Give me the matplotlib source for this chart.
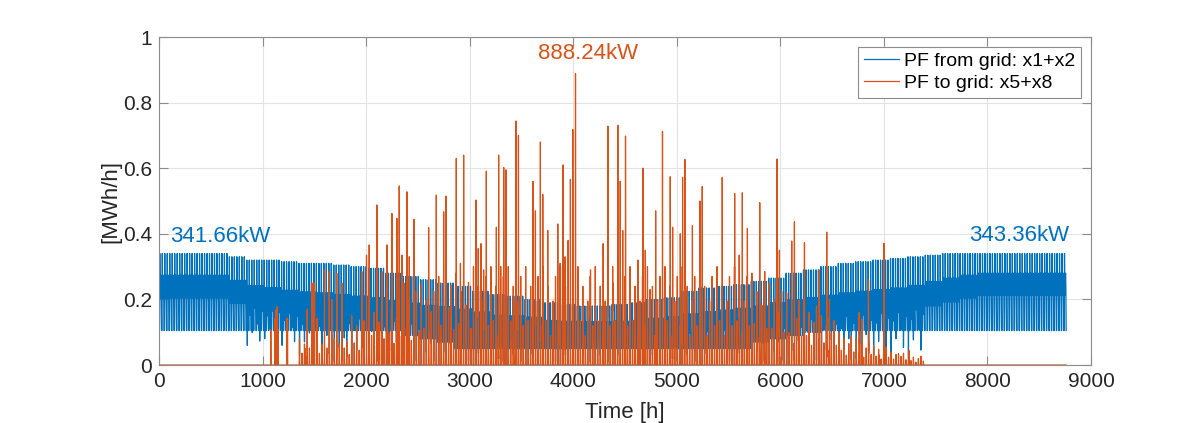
import numpy as np
import matplotlib
matplotlib.use('Agg')
import matplotlib.pyplot as plt

plt.rcParams['font.family'] = ['Liberation Sans', 'DejaVu Sans']

# ---- data ----
n_hours = 8760

# weekly levels of the grid import (MWh/h), one value per week (53 weeks)
blue_top = [0.34, 0.34, 0.34, 0.34, 0.33, 0.32, 0.32, 0.315, 0.31, 0.31,
            0.305, 0.30, 0.295, 0.28, 0.27, 0.26, 0.25, 0.24, 0.225, 0.215,
            0.21, 0.20, 0.19, 0.185, 0.18, 0.18, 0.185, 0.19, 0.20, 0.205,
            0.225, 0.235, 0.24, 0.245, 0.255, 0.265, 0.28, 0.29, 0.30, 0.31,
            0.315, 0.32, 0.325, 0.33, 0.335, 0.34, 0.34, 0.34, 0.34, 0.34,
            0.34, 0.34, 0.34]
blue_mid = [0.23, 0.23, 0.23, 0.23, 0.21, 0.19, 0.18, 0.17, 0.165, 0.16,
            0.155, 0.15, 0.145, 0.14, 0.135, 0.13, 0.13, 0.125, 0.12, 0.11,
            0.11, 0.11, 0.10, 0.10, 0.10, 0.10, 0.10, 0.10, 0.105, 0.11,
            0.11, 0.115, 0.12, 0.125, 0.13, 0.14, 0.145, 0.15, 0.155, 0.16,
            0.165, 0.17, 0.175, 0.185, 0.20, 0.215, 0.23, 0.24, 0.24, 0.24,
            0.24, 0.24, 0.24]
blue_low = ([0.105] * 14 + [0.09, 0.08, 0.07] + [0.05] * 17 +
            [0.07, 0.08, 0.09, 0.10] + [0.105] * 15)
blue_dip = [None] * 5 + [0.06, 0.08, 0.06, 0.03, 0.02, 0.01, 0.0, 0.0, 0.0,
            0.0, 0.0, 0.0, 0.0, 0.0, 0.0, 0.0, 0.0, 0.0, 0.0, 0.0, 0.0, 0.0,
            0.0, 0.0, 0.0, 0.0, 0.0, 0.0, 0.0, 0.0, 0.0, 0.0, 0.0, 0.0, 0.0,
            0.02, 0.03, 0.04, 0.03] + [None] * 9

# hourly shape of a day: 0 = low, 1 = mid, 2 = top
blue_day_shape = [0, 0, 0, 0, 0, 0.3, 1.2, 2.0, 1.3, 1.1, 0.9, 0.8,
                  0.8, 0.85, 0.95, 1.05, 1.2, 1.4, 1.3, 1.15, 1.0, 0.7, 0.2, 0]
# midday dip around solar noon (hours 11..13) and how deep it goes per weekday
blue_dip_shape = {11: 0.55, 12: 1.0, 13: 0.7}
blue_dip_factor = [1.0, 0.3, 0.7, 0.0, 0.5, 0.9, 0.2]

# typical daily export peak per week (MWh/h)
orange_week = [0.0] * 8 + [0.08, 0.08, 0.08, 0.15, 0.2, 0.22, 0.25, 0.25,
               0.27, 0.28] + [0.3] * 16 + [0.28, 0.25, 0.22, 0.2, 0.15, 0.1,
               0.08, 0.06, 0.04, 0.03] + [0.0] * 9
orange_day_shape = {10: 0.2, 11: 0.6, 12: 1.0, 13: 0.55, 14: 0.2}
orange_day_factor = [1.0, 0.45, 0.8, 0.3, 0.65, 0.9, 0.4]

# individual export peaks (hour, MWh/h)
spike_hours = [1080, 1121, 1131, 1141, 1150, 1237, 1241, 1411, 1431, 1476,
               1490, 1502, 1527, 1598, 1644, 1669, 1717, 1766, 1814, 1959,
               2004, 2030, 2104, 2153, 2201, 2249, 2297, 2320, 2346, 2394,
               2417, 2462, 2604, 2678, 2749, 2771, 2871, 2911, 2942, 3061,
               3083, 3109, 3135, 3161, 3258, 3280, 3300, 3329, 3352, 3425,
               3448, 3471, 3612, 3635, 3683, 3706, 3754, 3851, 3874, 3902,
               3922, 3951, 3973, 3996, 4022, 4167, 4289, 4335, 4383, 4431,
               4454, 4478, 4505, 4625, 4673, 4696, 4742, 4796, 4862, 4937,
               4960, 5034, 5056, 5078, 5151, 5224, 5246, 5439, 5559, 5603,
               5633, 5682, 5801, 5849, 5968, 5991, 6110, 6136, 6233, 6375,
               6448, 6474, 6761, 6787, 6851, 6955, 7000, 7141, 7241]
spike_values = [0.107, 0.142, 0.168, 0.178, 0.11, 0.143, 0.14, 0.05, 0.17, 0.25,
                0.25, 0.25, 0.143, 0.29, 0.285, 0.2, 0.28, 0.25, 0.07, 0.285,
                0.335, 0.366, 0.488, 0.285, 0.366, 0.462, 0.447, 0.546, 0.335, 0.528,
                0.33, 0.444, 0.419, 0.518, 0.467, 0.515, 0.63, 0.31, 0.64, 0.503,
                0.355, 0.37, 0.29, 0.591, 0.42, 0.64, 0.3, 0.602, 0.595, 0.2,
                0.744, 0.70, 0.56, 0.47, 0.68, 0.52, 0.41, 0.43, 0.31, 0.61,
                0.33, 0.38, 0.566, 0.718, 0.88824, 0.29, 0.37, 0.728, 0.25, 0.731,
                0.56, 0.41, 0.698, 0.32, 0.60, 0.35, 0.23, 0.47, 0.712, 0.574,
                0.42, 0.40, 0.572, 0.627, 0.425, 0.50, 0.544, 0.572, 0.523, 0.335,
                0.525, 0.417, 0.495, 0.285, 0.628, 0.35, 0.378, 0.437, 0.373, 0.29,
                0.405, 0.2, 0.16, 0.14, 0.26, 0.03, 0.371, 0.035, 0.045]

xticks = [0, 1000, 2000, 3000, 4000, 5000, 6000, 7000, 8000, 9000]
yticks = [0, 0.2, 0.4, 0.6, 0.8, 1.0]
ytick_labels = ['0', '0.2', '0.4', '0.6', '0.8', '1']

# ---- build hourly series ----
grid_in = np.zeros(n_hours)
grid_out = np.zeros(n_hours)
for h in range(n_hours):
    w = h // 168
    d = h // 24
    hod = h % 24
    a = blue_day_shape[hod]
    if a <= 1:
        v = blue_low[w] + (blue_mid[w] - blue_low[w]) * a
    else:
        v = blue_mid[w] + (blue_top[w] - blue_mid[w]) * (a - 1)
    if hod in blue_dip_shape and blue_dip[w] is not None:
        f = blue_dip_factor[d % 7] * blue_dip_shape[hod]
        if f > 0:
            v = blue_mid[w] - (blue_mid[w] - blue_dip[w]) * f
    grid_in[h] = v
    if hod in orange_day_shape:
        grid_out[h] = orange_week[w] * orange_day_factor[d % 7] * orange_day_shape[hod]
for h, v in zip(spike_hours, spike_values):
    grid_out[h - 1] = v

t = np.arange(1, n_hours + 1)

# ---- plot ----
blue = '#0072BD'
orange = '#D95319'
fig = plt.figure(figsize=(11.98, 4.23), dpi=100)
ax = fig.add_axes([0.1327, 0.1371, 0.778, 0.7754])

ax.plot(t, grid_in, color=blue, lw=0.9, label='PF from grid: x1+x2')
ax.plot(t, grid_out, color=orange, lw=0.9, label='PF to grid: x5+x8')

ax.set_xlim(0, 9000)
ax.set_ylim(0, 1)
ax.set_xticks(xticks)
ax.set_xticklabels([str(x) for x in xticks])
ax.set_yticks(yticks)
ax.set_yticklabels(ytick_labels)
ax.grid(True, color='#e3e3e3', lw=0.8)
ax.set_axisbelow(True)
for s in ax.spines.values():
    s.set_color('#8c8c8c')
    s.set_linewidth(0.8)
ax.tick_params(direction='in', length=6.5, width=0.8, color='#8c8c8c',
               labelsize=15, labelcolor='#262626', top=True, right=True, pad=5)

ax.set_xlabel('Time [h]', fontsize=16, color='#262626', labelpad=8)
ax.set_ylabel('[MWh/h]', fontsize=16, color='#262626', labelpad=1)

ax.text(106, 0.393, '341.66kW', color=blue, fontsize=16, ha='left', va='center')
ax.text(8790, 0.396, '343.36kW', color=blue, fontsize=16, ha='right', va='center')
ax.text(4142, 0.95, '888.24kW', color=orange, fontsize=16, ha='center', va='center')

leg = ax.legend(loc='upper right', bbox_to_anchor=(0.989, 0.970), borderaxespad=0,
                fontsize=14, fancybox=False, framealpha=1, edgecolor='#8c8c8c',
                handlelength=1.8, handletextpad=0.25, borderpad=0.3,
                labelspacing=0.2)
leg.get_frame().set_linewidth(0.8)

fig.savefig('out.png', dpi=100)
